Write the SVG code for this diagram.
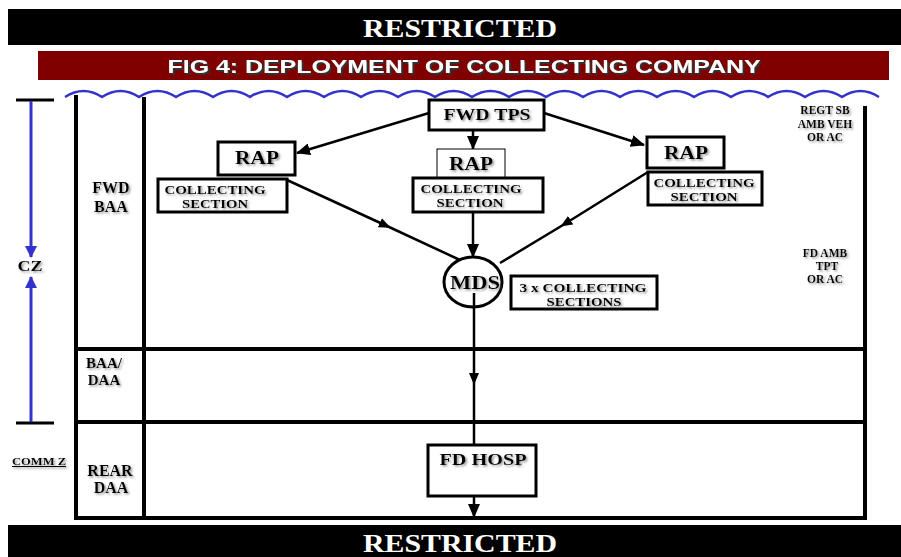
<svg xmlns="http://www.w3.org/2000/svg" width="901" height="557" viewBox="0 0 901 557">
<style>
.ser{font-family:"Liberation Serif","Times New Roman",serif;font-weight:bold;fill:#000;}
.box{fill:#fff;stroke:#000;stroke-width:3;}
.thin{fill:#fff;stroke:#000;stroke-width:1;}
.grid{stroke:#000;stroke-width:4;fill:none;}
.con{stroke:#000;stroke-width:2.5;fill:none;}
.blue{stroke:#3333cc;fill:none;}
.sh{filter:url(#ts);}
</style>
<defs>
<filter id="ts" x="-10%" y="-30%" width="130%" height="170%">
<feDropShadow dx="1.5" dy="1.5" stdDeviation="0.8" flood-color="#777" flood-opacity="0.8"/>
</filter>
<filter id="ts2" x="-5%" y="-30%" width="110%" height="170%">
<feDropShadow dx="2" dy="2" stdDeviation="0.6" flood-color="#333" flood-opacity="1"/>
</filter>
<marker id="ah" markerUnits="userSpaceOnUse" markerWidth="14" markerHeight="12" viewBox="0 0 14 12" refX="13" refY="6" orient="auto">
<path d="M0,0 L14,6 L0,12 Z" fill="#000"/>
</marker>
<marker id="am" markerUnits="userSpaceOnUse" markerWidth="12" markerHeight="10" viewBox="0 0 12 10" refX="9" refY="5" orient="auto">
<path d="M0,0 L12,5 L0,10 Z" fill="#000"/>
</marker>
<marker id="bh" markerUnits="userSpaceOnUse" markerWidth="12" markerHeight="12" viewBox="0 0 12 12" refX="11" refY="6" orient="auto">
<path d="M0,0 L12,6 L0,12 Z" fill="#3333cc"/>
</marker>
</defs>

<g id="banner-top">
<rect x="8" y="9" width="893" height="36" fill="#000"/>
<text x="460" y="37" text-anchor="middle" font-family="Liberation Serif, Times New Roman, serif" font-weight="bold" font-size="25" fill="#fff" textLength="194" lengthAdjust="spacingAndGlyphs">RESTRICTED</text>
</g>
<g id="title">
<rect x="38" y="51" width="851" height="29" fill="#800000"/>
<text x="464" y="73" text-anchor="middle" font-family="Liberation Sans, Arial, sans-serif" font-weight="bold" font-size="19" fill="#fff" filter="url(#ts2)" textLength="593" lengthAdjust="spacingAndGlyphs">FIG 4: DEPLOYMENT OF COLLECTING COMPANY</text>
</g>
<g id="banner-bottom">
<rect x="8" y="525" width="893" height="32" fill="#000"/>
<text x="460" y="552" text-anchor="middle" font-family="Liberation Serif, Times New Roman, serif" font-weight="bold" font-size="25" fill="#fff" textLength="194" lengthAdjust="spacingAndGlyphs">RESTRICTED</text>
</g>

<g id="frontline">
<path class="blue" stroke-width="2.5" d="M65,97 q18.5,-12 37,0 q18.5,-12 37,0 q18.5,-12 37,0 q18.5,-12 37,0 q18.5,-12 37,0 q18.5,-12 37,0 q18.5,-12 37,0 q18.5,-12 37,0 q18.5,-12 37,0 q18.5,-12 37,0 q18.5,-12 37,0 q18.5,-12 37,0 q18.5,-12 37,0 q18.5,-12 37,0 q18.5,-12 37,0 q18.5,-12 37,0 q18.5,-12 37,0 q18.5,-12 37,0 q18.5,-12 37,0 q18.5,-12 37,0 q18.5,-12 37,0 q18.5,-12 37,0"/>
</g>

<g id="grid">
<line class="grid" x1="76" y1="95" x2="76" y2="520"/>
<line class="grid" x1="144" y1="97" x2="144" y2="520"/>
<line class="grid" x1="865" y1="106" x2="865" y2="520"/>
<line class="grid" x1="76" y1="349" x2="867" y2="349"/>
<line class="grid" x1="76" y1="422" x2="867" y2="422"/>
<line class="grid" x1="74" y1="518" x2="867" y2="518"/>
</g>

<g id="cz-scale">
<line x1="16" y1="100" x2="54" y2="100" stroke="#000" stroke-width="3"/>
<line x1="16" y1="423" x2="54" y2="423" stroke="#000" stroke-width="3"/>
<line class="blue" stroke-width="3" x1="31" y1="101" x2="31" y2="257" marker-end="url(#bh)"/>
<line class="blue" stroke-width="3" x1="31" y1="422" x2="31" y2="277" marker-end="url(#bh)"/>
<text class="ser sh" x="30" y="271" text-anchor="middle" font-size="15" textLength="25" lengthAdjust="spacingAndGlyphs">CZ</text>
</g>

<g id="zone-labels">
<text class="ser sh" font-size="16" text-anchor="middle"><tspan x="111" y="193">FWD</tspan><tspan x="111" y="212">BAA</tspan></text>
<text class="ser sh" font-size="15" text-anchor="middle"><tspan x="104" y="368">BAA/</tspan><tspan x="104" y="385">DAA</tspan></text>
<text class="ser sh" font-size="16" text-anchor="middle"><tspan x="110" y="476">REAR</tspan><tspan x="111" y="493">DAA</tspan></text>
<text class="ser sh" x="39" y="465" text-anchor="middle" font-size="10" text-decoration="underline" textLength="54" lengthAdjust="spacingAndGlyphs">COMM Z</text>
<text class="ser sh" font-size="11.5" text-anchor="middle"><tspan x="825" y="114">REGT SB</tspan><tspan x="825" y="127.5">AMB VEH</tspan><tspan x="825" y="141">OR AC</tspan></text>
<text class="ser sh" font-size="11.5" text-anchor="middle"><tspan x="825" y="257">FD AMB</tspan><tspan x="827" y="270">TPT</tspan><tspan x="825" y="283">OR AC</tspan></text>
</g>

<g id="connectors">
<line class="con" x1="429" y1="113" x2="297" y2="153" marker-end="url(#ah)"/>
<line class="con" x1="544" y1="113" x2="644" y2="145" marker-end="url(#ah)"/>
<line class="con" x1="473" y1="130" x2="473" y2="149" marker-end="url(#ah)"/>
<line class="con" x1="473" y1="212" x2="473" y2="257" marker-end="url(#ah)"/>
<path class="con" d="M287,180 L388,226.5 L460,260" marker-mid="url(#am)"/>
<path class="con" d="M648,172 L563,225 L500,263" marker-mid="url(#am)"/>
<path class="con" d="M474,293 L474,382 L474,445" marker-mid="url(#am)"/>
<line class="con" x1="474" y1="477" x2="474" y2="517" marker-end="url(#ah)"/>
</g>

<g id="fwd-tps">
<rect class="box" x="429" y="100" width="115" height="30"/>
<text class="ser sh" x="487" y="120" text-anchor="middle" font-size="16" textLength="87" lengthAdjust="spacingAndGlyphs">FWD TPS</text>
</g>
<g id="rap-left">
<rect class="box" x="218" y="142" width="77" height="33"/>
<text class="ser sh" x="257" y="164" text-anchor="middle" font-size="19" textLength="44" lengthAdjust="spacingAndGlyphs">RAP</text>
</g>
<g id="section-left">
<rect class="box" x="158" y="179" width="129" height="33"/>
<text class="ser sh" x="215" y="193.5" text-anchor="middle" font-size="12" textLength="101" lengthAdjust="spacingAndGlyphs">COLLECTING</text>
<text class="ser sh" x="215" y="207.5" text-anchor="middle" font-size="12" textLength="66" lengthAdjust="spacingAndGlyphs">SECTION</text>
</g>
<g id="rap-centre">
<rect class="thin" x="437" y="149" width="68" height="29"/>
<text class="ser sh" x="471" y="170" text-anchor="middle" font-size="19" textLength="44" lengthAdjust="spacingAndGlyphs">RAP</text>
</g>
<g id="section-centre">
<rect class="box" x="413" y="178" width="130" height="34"/>
<text class="ser sh" x="471" y="192.5" text-anchor="middle" font-size="12" textLength="101" lengthAdjust="spacingAndGlyphs">COLLECTING</text>
<text class="ser sh" x="470" y="206.5" text-anchor="middle" font-size="12" textLength="67" lengthAdjust="spacingAndGlyphs">SECTION</text>
</g>
<g id="rap-right">
<rect class="box" x="647" y="137" width="77" height="31"/>
<text class="ser sh" x="686" y="159" text-anchor="middle" font-size="19" textLength="44" lengthAdjust="spacingAndGlyphs">RAP</text>
</g>
<g id="section-right">
<rect class="box" x="648" y="172" width="114" height="33"/>
<text class="ser sh" x="704" y="187" text-anchor="middle" font-size="12" textLength="101" lengthAdjust="spacingAndGlyphs">COLLECTING</text>
<text class="ser sh" x="704" y="200.5" text-anchor="middle" font-size="12" textLength="67" lengthAdjust="spacingAndGlyphs">SECTION</text>
</g>
<g id="mds">
<ellipse cx="473" cy="282" rx="29" ry="25" fill="#fff" stroke="#000" stroke-width="3"/>
<line class="con" x1="474" y1="293" x2="474" y2="307"/>
<text class="ser sh" x="475" y="289" text-anchor="middle" font-size="19" textLength="50" lengthAdjust="spacingAndGlyphs">MDS</text>
</g>
<g id="sections-3x">
<rect class="box" x="511" y="276" width="146" height="33"/>
<text class="ser sh" x="583" y="291.5" text-anchor="middle" font-size="12" textLength="127" lengthAdjust="spacingAndGlyphs">3 x COLLECTING</text>
<text class="ser sh" x="584" y="305.5" text-anchor="middle" font-size="12" textLength="75" lengthAdjust="spacingAndGlyphs">SECTIONS</text>
</g>
<g id="fd-hosp">
<rect class="box" x="428" y="445" width="108" height="51"/>
<text class="ser sh" x="483" y="465" text-anchor="middle" font-size="16" textLength="87" lengthAdjust="spacingAndGlyphs">FD HOSP</text>
</g>
</svg>
